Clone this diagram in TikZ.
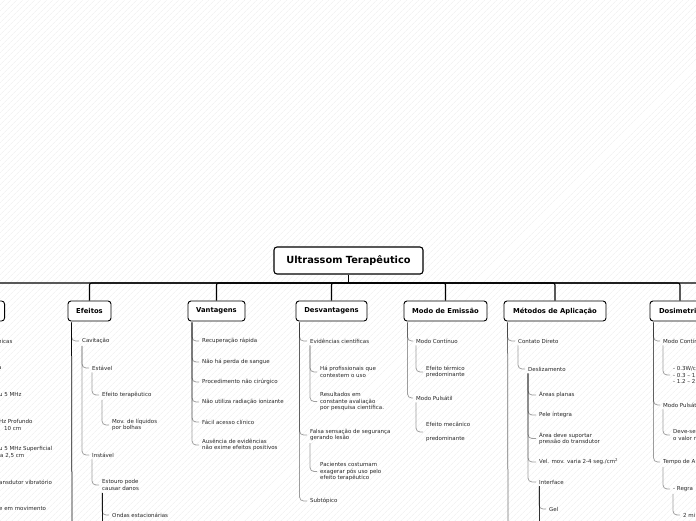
\documentclass[tikz,border=0pt]{standalone}
\usepackage{fontspec}
\setmainfont{DejaVu Sans}
\usetikzlibrary{patterns.meta}

\tikzset{
  root/.style={draw, line width=1.1pt, rounded corners=3pt, fill=white,
    minimum width=149pt, minimum height=27pt, inner sep=0pt,
    font=\fontsize{9.8}{11}\selectfont\bfseries},
  topic/.style={draw, line width=0.9pt, rounded corners=3pt, fill=white,
    minimum width=#1, minimum height=20pt, inner sep=0pt,
    font=\fontsize{6.8}{8}\selectfont\bfseries},
  leaf/.style={anchor=west, align=left, inner xsep=0pt, inner ysep=1pt,
    text=black!85, font=\fontsize{5.5}{6.6}\selectfont},
  bus/.style={line width=1.1pt, rounded corners=2pt},
  link/.style={draw=black, line width=0.75pt, opacity=0.38,
    rounded corners=4pt, shorten >=3pt, shorten <=1pt},
  trunk/.style={link, opacity=#1, shorten >=0pt},
}

\begin{document}
\begin{tikzpicture}[x=1pt, y=-1pt]
  \path[use as bounding box, clip] (0,0) rectangle (696,520);
  \fill[pattern={Lines[angle=45, distance=4pt, line width=0.5pt]},
        pattern color=black!7] (0,0) rectangle (696,520);

  % root and main branches
  \node[root] (root) at (348.5,260.5) {Ultrassom Terapêutico};
  \coordinate (hub) at (348.5,283);
  \node[topic=60pt, anchor=east] (intro) at (5,311) {};
  \node[topic=43pt] (efe) at (89.5,311) {Efeitos};
  \node[topic=57pt] (van) at (216.5,311) {Vantagens};
  \node[topic=71pt] (des) at (331.5,311) {Desvantagens};
  \node[topic=83pt] (emi) at (445.5,311) {Modo de Emissão};
  \node[topic=102pt] (met) at (555,311) {Métodos de Aplicação};
  \node[topic=60pt] (dos) at (680,311) {Dosimetria};
  \coordinate (nextr) at (740,311);

  \draw[bus] (root.south) -- (hub);
  \foreach \t in {intro,efe,van,des,emi,met,dos}
    \draw[bus] (hub) -| (\t.north);
  \draw[bus] (hub) -| (nextr);

  % cut-off branch on the left
  \node[leaf] (l1) at (-2,341) {nicas};
  \node[leaf] (l2) at (-2,368) {a};
  \node[leaf] (l3) at (-1,395) {u 5 MHz};
  \node[leaf] (l4) at (-1,425) {Hz Profundo\\\hspace*{5pt}10 cm};
  \node[leaf] (l5) at (-1,452) {u 5 MHz Superficial\\\hspace*{1pt}a 2,5 cm};
  \node[leaf] (l6) at (-1,482) {ansdutor vibratório};
  \node[leaf] (l7) at (-1,508) {e em movimento};

  % Efeitos
  \node[leaf] (cav) at (82,341) {Cavitação};
  \node[leaf] (est) at (92,368) {Estável};
  \node[leaf] (eter) at (102,395) {Efeito terapêutico};
  \node[leaf] (mov) at (112,425) {Mov. de líquidos\\por bolhas};
  \node[leaf] (ins) at (92,455) {Instável};
  \node[leaf] (esto) at (102,485) {Estouro pode\\causar danos};
  \node[leaf] (ond) at (112,515) {Ondas estacionárias};
  \coordinate (efe_end) at (72,530);
  \coordinate (esto_end) at (102,530);

  \draw[trunk=0.95] ([xshift=4pt]efe.south west) -- (efe_end);
  \draw[link] ([xshift=4pt]efe.south west) |- (cav.west);
  \draw[link] (cav.south west) |- (est.west);
  \draw[link] (cav.south west) |- (ins.west);
  \draw[link] (est.south west) |- (eter.west);
  \draw[link] (eter.south west) |- (mov.west);
  \draw[link] (ins.south west) |- (esto.west);
  \draw[trunk=0.9] (esto.south west) -- (esto_end);
  \draw[link] (esto.south west) |- (ond.west);

  % Vantagens
  \node[leaf] (v1) at (202,341) {Recuperação rápida};
  \node[leaf] (v2) at (202,362) {Não há perda de sangue};
  \node[leaf] (v3) at (202,382) {Procedimento não cirúrgico};
  \node[leaf] (v4) at (202,402) {Não utiliza radiação ionizante};
  \node[leaf] (v5) at (202,422) {Fácil acesso clínico};
  \node[leaf] (v6) at (202,445) {Ausência de evidências\\não exime efeitos positivos};
  \foreach \v in {v1,v2,v3,v4,v5,v6}
    \draw[link] ([xshift=4.5pt]van.south west) |- (\v.west);

  % Desvantagens
  \node[leaf] (d1) at (310,341) {Evidências científicas};
  \node[leaf] (d11) at (320,372) {Há profissionais que\\contestem o uso};
  \node[leaf] (d12) at (320,401.5) {Resultados em\\constante avaliação\\por pesquisa científica.};
  \node[leaf] (d2) at (310,435) {Falsa sensação de segurança\\gerando lesão};
  \node[leaf] (d21) at (320,471.5) {Pacientes costumam\\exagerar pós uso pelo\\efeito terapêutico};
  \node[leaf] (d3) at (310,501) {Subtópico};
  \foreach \d in {d1,d2,d3}
    \draw[link] ([xshift=4pt]des.south west) |- (\d.west);
  \draw[link] (d1.south west) |- (d11.west);
  \draw[link] (d1.south west) |- (d12.west);
  \draw[link] (d2.south west) |- (d21.west);

  % Modo de Emissao
  \node[leaf] (e1) at (416,341) {Modo Contínuo};
  \node[leaf] (e11) at (426,372) {Efeito térmico\\predominante};
  \node[leaf] (e2) at (416,398) {Modo Pulsátil};
  \node[leaf] (e21) at (426,432) {Efeito mecânico\\[7pt]predominante};
  \draw[link] ([xshift=4pt]emi.south west) |- (e1.west);
  \draw[link] ([xshift=4pt]emi.south west) |- (e2.west);
  \draw[link] (e1.south west) |- (e11.west);
  \draw[link] (e2.south west) |- (e21.west);

  % Metodos de Aplicacao
  \node[leaf] (m1) at (518,341) {Contato Direto};
  \node[leaf] (m11) at (528,369) {Deslizamento};
  \node[leaf] (m111) at (539,395) {Áreas planas};
  \node[leaf] (m112) at (539,415) {Pele íntegra};
  \node[leaf] (m113) at (539,438.5) {Área deve suportar\\pressão do transdutor};
  \node[leaf] (m114) at (539,462) {Vel. mov. varia 2-4 seg./cm\textsuperscript{2}};
  \node[leaf] (m115) at (539,482) {Interface};
  \node[leaf] (gel) at (549,509) {Gel};
  \coordinate (met_end) at (508,530);
  \coordinate (m115_end) at (539,530);

  \draw[trunk=0.55] ([xshift=4pt]met.south west) -- (met_end);
  \draw[link] ([xshift=4pt]met.south west) |- (m1.west);
  \draw[link] (m1.south west) |- (m11.west);
  \foreach \m in {m111,m112,m113,m114,m115}
    \draw[link] (m11.south west) |- (\m.west);
  \draw[trunk=0.8] (m115.south west) -- (m115_end);
  \draw[link] (m115.south west) |- (gel.west);

  % Dosimetria
  \node[leaf] (s1) at (663,341) {Modo Contínuo};
  \node[leaf] (s11) at (673,375) {- 0.3W/c\\- 0.3 – 1\\- 1.2 – 2};
  \node[leaf] (s2) at (663,405) {Modo Pulsátil};
  \node[leaf] (s21) at (673,435) {Deve-se\\o valor n};
  \node[leaf] (s3) at (663,462) {Tempo de A};
  \node[leaf] (s31) at (673,489) {- Regra};
  \node[leaf] (s311) at (683,515) {2 mi};
  \foreach \s in {s1,s2,s3}
    \draw[link] ([xshift=4pt]dos.south west) |- (\s.west);
  \draw[link] (s1.south west) |- (s11.west);
  \draw[link] (s2.south west) |- (s21.west);
  \draw[link] (s3.south west) |- (s31.west);
  \draw[link] (s31.south west) |- (s311.west);
\end{tikzpicture}
\end{document}
